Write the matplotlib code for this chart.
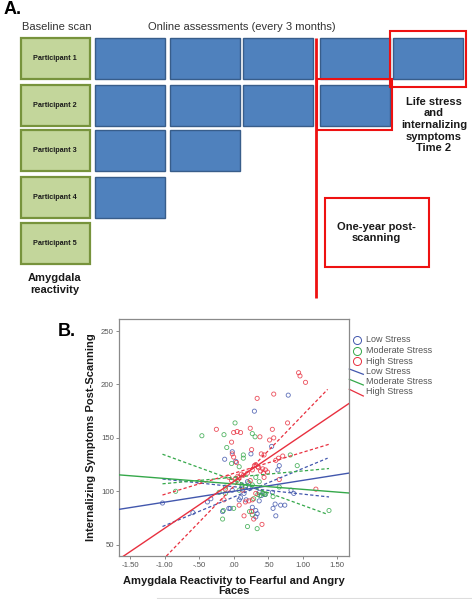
import matplotlib
matplotlib.use("Agg")
import matplotlib.pyplot as plt
from matplotlib.patches import Rectangle
import numpy as np

plt.rcParams['font.family'] = ['Liberation Sans', 'DejaVu Sans']

# ---------------- data ----------------
participants = ["Participant 1", "Participant 2", "Participant 3", "Participant 4", "Participant 5"]
n_assessments = [5, 4, 2, 1, 0]

groups = ["Low Stress", "Moderate Stress", "High Stress"]
colors = ["#4257ad", "#35a84a", "#e8303f"]

low_x = [0.30, 0.79, 0.55, 0.25, -0.02, -0.13, 0.03, -1.03, -0.59, -0.38, -0.33, 0.61, 0.57, 0.60,
         0.68, 0.74, 0.83, 0.87, 0.66, 0.64, -0.07, -0.16, 0.32, 0.34, 0.32, 0.27, 0.37, 0.10, 0.15,
         -0.02, 0.20, 0.08, 0.37, 0.56, 0.40, 0.12, 0.22, 0.45, -0.05, 0.18]
low_y = [175, 190, 142, 135, 137, 130, 128, 89, 80, 90, 93, 77, 84, 88,
         87, 87, 101, 98, 124, 120, 84, 81, 82, 79, 76, 85, 91, 94, 98,
         101, 109, 92, 99, 99, 96, 106, 103, 97, 84, 92]

mod_x = [-0.46, -0.14, 0.02, -0.10, 0.14, 0.14, 0.27, 0.31, 0.82, 0.92, 1.38, -0.84, -0.03, 0.08,
         0.32, 0.37, 0.27, 0.17, 0.42, 0.46, 0.35, 0.57, 0.66, -0.15, -0.16, 0.00, 0.20, 0.34, 0.23,
         0.27, -0.12, -0.21, 0.29, 0.08, -0.12, 0.38, 0.44, 0.22, 0.05, 0.12]
mod_y = [152, 153, 164, 141, 134, 131, 154, 151, 134, 124, 82, 100, 126, 123,
         113, 109, 106, 104, 98, 97, 97, 95, 104, 82, 74, 84, 67, 65, 81,
         78, 98, 99, 93, 101, 104, 96, 98, 108, 110, 104]

high_x = [0.94, 0.96, 1.04, 0.58, 0.34, 0.78, 0.56, 0.24, -0.25, 0.05, 0.00, 0.10, 0.38, 0.58,
          0.52, -0.03, 0.26, -0.02, 0.00, 0.40, 0.44, 0.71, 0.65, 0.61, 0.04, 0.32, 0.35, 0.42,
          0.46, 0.49, 0.27, 0.20, 0.14, 0.08, 0.03, -0.03, -0.07, 0.44, 0.66, 1.19, -0.50, 0.08,
          0.17, 0.22, 0.27, 0.15, 0.29, 0.41, 0.26, 0.32, 0.13, -0.14, -0.12, 0.36, 0.39, 0.30,
          0.11, 0.06, 0.43, 0.24]
high_y = [211, 208, 202, 191, 187, 164, 158, 159, 158, 156, 155, 155, 151, 150,
          148, 146, 139, 135, 132, 135, 134, 133, 131, 129, 127, 125, 123, 121,
          120, 118, 120, 117, 115, 113, 112, 110, 113, 113, 111, 102, 109, 87,
          90, 91, 92, 77, 74, 69, 81, 98, 101, 92, 102, 122, 119, 124, 116, 114, 117, 110]

# fit lines (slope, intercept) per group
fit_slope = [10.2, -5.1, 43.8]
fit_icpt = [100.0, 106.9, 109.1]

# dashed lines: (x0, y0, x1, y1) per group, two each
dash_lines = [
    [(-1.03, 67.0, 1.36, 131.0), (-1.03, 111.5, 1.38, 94.7)],
    [(-1.03, 134.7, 1.36, 78.4), (-1.03, 107.0, 1.38, 121.3)],
    [(-1.03, 35.6, 1.36, 195.4), (-1.03, 96.5, 1.38, 144.0)],
]

xticks = [-1.5, -1.0, -0.5, 0.0, 0.5, 1.0, 1.5]
xticklabels = ["-1.50", "-1.00", "-.50", ".00", ".50", "1.00", "1.50"]
yticks = [50, 100, 150, 200, 250]

# ---------------- figure ----------------
W, H = 472, 599
fig = plt.figure(figsize=(W / 100, H / 100), dpi=100)
ov = fig.add_axes([0, 0, 1, 1], zorder=0)
ov.set_xlim(0, W)
ov.set_ylim(H, 0)
ov.axis("off")

ov.text(4, 10, "A.", fontsize=13, fontweight="bold", ha="left", va="center")
ov.text(22.5, 26.7, "Baseline scan", fontsize=8, color="#333333", ha="left", va="center")
ov.text(147.5, 26.7, "Online assessments (every 3 months)", fontsize=8, color="#333333",
        ha="left", va="center")

row_top = [38.3, 85.0, 130.0, 176.7, 222.7]
box_h = 40.8
col_left = [95.0, 170.0, 243.3, 320.0, 393.3]
box_w = 70.0
for i, name in enumerate(participants):
    ov.add_patch(Rectangle((20.5, row_top[i]), 69.5, box_h, facecolor="#c3d69b",
                           edgecolor="#77933c", lw=1.6, zorder=2))
    ov.text(55.2, row_top[i] + box_h / 2, name, fontsize=5.2, fontweight="bold",
            ha="center", va="center", color="#1a1a1a", zorder=3)
    for j in range(n_assessments[i]):
        ov.add_patch(Rectangle((col_left[j], row_top[i]), box_w, box_h, facecolor="#4f81bd",
                               edgecolor="#385d8a", lw=1.0, zorder=2))

ov.text(54.5, 284, "Amygdala\nreactivity", fontsize=8, fontweight="bold", ha="center",
        va="center", linespacing=1.15, color="#1a1a1a")

red = "#ee1111"
ov.plot([315.7, 315.7], [38.3, 297.7], color=red, lw=2.0, zorder=4, solid_capstyle="butt")
ov.add_patch(Rectangle((316.7, 79.0), 75.0, 51.0, fill=False, edgecolor=red, lw=1.5, zorder=4))
ov.add_patch(Rectangle((390.0, 30.7), 76.0, 56.6, fill=False, edgecolor=red, lw=1.5, zorder=4))
ov.add_patch(Rectangle((325.3, 197.7), 103.7, 69.0, fill=False, edgecolor=red, lw=1.5, zorder=4))
ov.text(376.7, 232.3, "One-year post-\nscanning", fontsize=8, fontweight="bold", ha="center",
        va="center", linespacing=1.15, color="#1a1a1a")
ov.text(434, 125, "Life stress\nand\ninternalizing\nsymptoms\nTime 2", fontsize=8,
        fontweight="bold", ha="center", va="center", linespacing=1.2, color="#1a1a1a")

# ---------------- panel B ----------------
ov.text(58, 331.7, "B.", fontsize=13, fontweight="bold", ha="left", va="center")

L, R, T, B = 119.3, 348.7, 319.0, 556.0
ax = fig.add_axes([L / W, 1 - B / H, (R - L) / W, (B - T) / H], zorder=1)
ax.set_xlim(-1.655, 1.665)
ax.set_ylim(39.4, 261.3)
ax.patch.set_alpha(0)

xs = [low_x, mod_x, high_x]
ys = [low_y, mod_y, high_y]
for g in range(3):
    ax.scatter(xs[g], ys[g], s=9, facecolors="none", edgecolors=colors[g], linewidths=0.6,
               alpha=0.85, zorder=2)
for g in range(3):
    for (x0, y0, x1, y1) in dash_lines[g]:
        ax.plot([x0, x1], [y0, y1], color=colors[g], lw=0.9, ls=(0, (2.6, 1.8)), zorder=3)
xl = np.array(ax.get_xlim())
for g in range(3):
    ax.plot(xl, fit_slope[g] * xl + fit_icpt[g], color=colors[g], lw=1.0, zorder=4)
ax.set_xlim(-1.655, 1.665)

for sp in ax.spines.values():
    sp.set_color("#8a8a8a")
    sp.set_linewidth(0.9)
ax.set_xticks(xticks)
ax.set_xticklabels(xticklabels)
ax.set_yticks(yticks)
ax.tick_params(axis="both", labelsize=5.6, labelcolor="#555555", color="#8a8a8a",
               length=2.5, width=0.7, pad=1.5)

ov.text(91, 436.7, "Internalizing Symptoms Post-Scanning", fontsize=8, fontweight="bold",
        rotation=90, ha="center", va="center", color="#1a1a1a")
ov.text(234, 586, "Amygdala Reactivity to Fearful and Angry\nFaces", fontsize=8,
        fontweight="bold", ha="center", va="center", linespacing=0.95, color="#1a1a1a")

# legend (drawn outside the axes on the right)
circ_y = [340.0, 350.7, 361.0]
line_y = [(369.0, 374.3), (379.3, 385.0), (389.3, 396.0)]
for g in range(3):
    ov.plot([356.7], [circ_y[g]], marker="o", ms=5.8, mfc="none", mec=colors[g], mew=0.7)
    ov.text(365.7, circ_y[g], groups[g], fontsize=6.5, color="#555555", ha="left", va="center")
for g in range(3):
    ov.plot([349.3, 363.3], list(line_y[g]), color=colors[g], lw=0.9)
    ov.text(365.7, line_y[g][0] + 2.5, groups[g], fontsize=6.5, color="#555555", ha="left",
            va="center")

ov.plot([156.7, 472], [598.3, 598.3], color="#dddddd", lw=0.8)

fig.savefig("out.png", dpi=100)
